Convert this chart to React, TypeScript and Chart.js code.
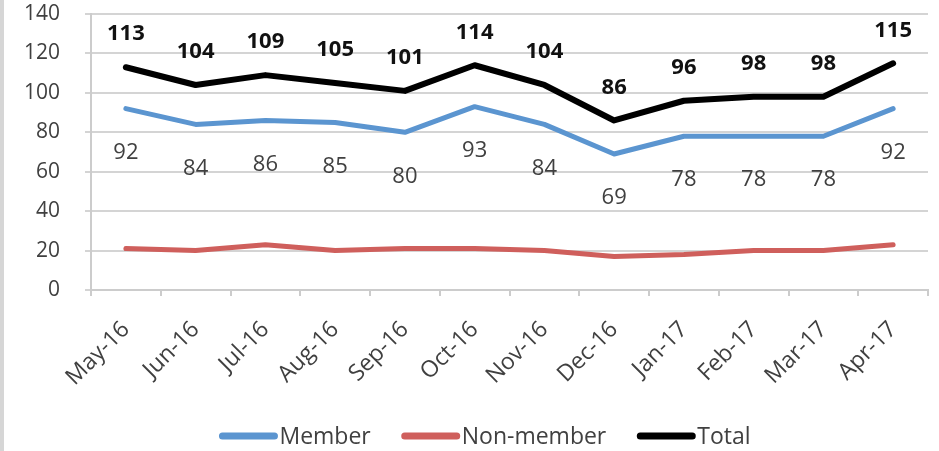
import React, { useEffect, useRef } from "react";
import { Chart, registerables } from "chart.js";

Chart.register(...registerables);

const categories = ["May-16", "Jun-16", "Jul-16", "Aug-16", "Sep-16", "Oct-16", "Nov-16", "Dec-16", "Jan-17", "Feb-17", "Mar-17", "Apr-17"];
const memberValues = [92, 84, 86, 85, 80, 93, 84, 69, 78, 78, 78, 92];
const nonMemberValues = [21, 20, 23, 20, 21, 21, 20, 17, 18, 20, 20, 23];
const totalValues = [113, 104, 109, 105, 101, 114, 104, 86, 96, 98, 98, 115];
const seriesNames = ["Member", "Non-member", "Total"];

const FONT = "'Open Sans', sans-serif";

const labelPlugin = {
  id: "valueLabels",
  beforeDraw(chart: any) {
    const ctx = chart.ctx;
    ctx.save();
    ctx.fillStyle = "#d6d6d6";
    ctx.fillRect(0, 0, 4, chart.height);
    ctx.restore();
  },
  afterDatasetsDraw(chart: any) {
    const ctx = chart.ctx;
    ctx.save();
    ctx.textAlign = "center";
    ctx.textBaseline = "middle";
    const m = chart.getDatasetMeta(0);
    ctx.font = `22px ${FONT}`;
    ctx.fillStyle = "#404040";
    m.data.forEach((pt: any, i: number) => {
      ctx.fillText(String(memberValues[i]), pt.x, pt.y + 44);
    });
    const t = chart.getDatasetMeta(2);
    ctx.font = `bold 22px ${FONT}`;
    ctx.fillStyle = "#111";
    t.data.forEach((pt: any, i: number) => {
      ctx.fillText(String(totalValues[i]), pt.x, pt.y - 33);
    });
    ctx.restore();
  },
  afterDraw(chart: any) {
    // legend
    const ctx = chart.ctx;
    ctx.save();
    ctx.font = `23px ${FONT}`;
    ctx.textBaseline = "middle";
    ctx.textAlign = "left";
    const sw = 58, gap = 2, spacing = 31;
    const ds = chart.data.datasets;
    const widths = ds.map((d: any) => sw + gap + ctx.measureText(d.label).width);
    const total = widths.reduce((a: number, b: number) => a + b, 0) + spacing * (ds.length - 1);
    let x = 485 - total / 2;
    const y = 436;
    ds.forEach((d: any, i: number) => {
      ctx.strokeStyle = d.borderColor;
      ctx.lineWidth = 7;
      ctx.lineCap = "round";
      ctx.beginPath();
      ctx.moveTo(x + 3, y);
      ctx.lineTo(x + sw - 3, y);
      ctx.stroke();
      ctx.fillStyle = "#404040";
      ctx.fillText(d.label, x + sw + gap, y + 1);
      x += widths[i] + spacing;
    });
    ctx.restore();
  },
};

export default function App() {
  const ref = useRef<HTMLCanvasElement>(null);
  useEffect(() => {
    document.body.style.margin = "0";
    const colors = ["#5b95d0", "#cf5f5c", "#000000"];
    const values = [memberValues, nonMemberValues, totalValues];
    const chart = new Chart(ref.current!, {
      type: "line",
      data: {
        labels: categories,
        datasets: seriesNames.map((n, i) => ({
          label: n,
          data: values[i],
          borderColor: colors[i],
          backgroundColor: colors[i],
          borderWidth: i === 2 ? 6 : 5,
          pointRadius: 0,
          tension: 0,
          borderJoinStyle: "round" as const,
          borderCapStyle: "round" as const,
        })),
      },
      options: {
        animation: false,
        responsive: false,
        devicePixelRatio: 1,
        layout: { padding: { top: 14, right: 11, left: 0, bottom: 0 } },
        plugins: {
          tooltip: { enabled: false },
          legend: { display: false },
        },
        scales: {
          x: {
            offset: true,
            grid: {
              display: true,
              offset: true,
              drawOnChartArea: false,
              drawTicks: true,
              tickLength: 6,
              color: "#cccccc",
              lineWidth: 2,
            },
            border: { display: true, color: "#cccccc", width: 2 },
            ticks: {
              minRotation: 45,
              maxRotation: 45,
              color: "#404040",
              font: { family: FONT, size: 23 },
              padding: 20,
            },
            afterFit(scale: any) {
              scale.height = 161;
            },
          },
          y: {
            min: 0,
            max: 140,
            grid: { color: "#d4d4d4", lineWidth: 2, tickLength: 6, drawTicks: true },
            border: { display: true, color: "#cccccc", width: 2 },
            ticks: {
              stepSize: 20,
              color: "#404040",
              padding: 25,
              font: { family: FONT, size: 21 },
            },
            afterFit(scale: any) {
              scale.width = 91;
              scale.paddingTop = 12;
              scale.paddingBottom = 12;
            },
          },
        },
      },
      plugins: [labelPlugin],
    });
    return () => chart.destroy();
  }, []);
  return <canvas ref={ref} width={939} height={451} style={{ display: "block" }} />;
}
